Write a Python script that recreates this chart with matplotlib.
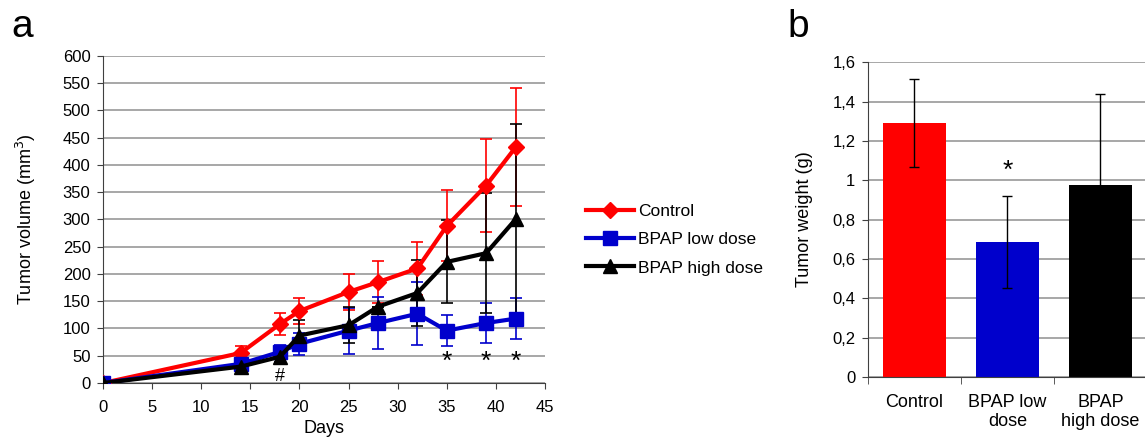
import numpy as np
import matplotlib.pyplot as plt

plt.rcParams['font.family'] = ['Liberation Sans', 'DejaVu Sans']

# panel a: tumor volume over time
days = [0, 14, 18, 20, 25, 28, 32, 35, 39, 42]
ctrl = [0, 55, 108, 132, 167, 185, 210, 288, 362, 432]
ctrl_err = [0, 12, 20, 23, 33, 38, 48, 65, 85, 108]
low = [0, 35, 57, 72, 96, 110, 127, 96, 110, 118]
low_err = [0, 8, 13, 20, 42, 48, 58, 29, 37, 38]
high = [0, 30, 48, 87, 106, 140, 165, 222, 238, 300]
high_err = [0, 6, 10, 28, 33, 0, 60, 76, 110, 175]

# panel b: tumor weight
groups = ['Control', 'BPAP low\ndose', 'BPAP\nhigh dose']
weight = [1.29, 0.685, 0.975]
weight_err = [0.225, 0.235, 0.465]

red = '#ff0000'
blue = '#0000cc'
black = '#000000'

fig = plt.figure(figsize=(11.45, 4.44), dpi=100)

ax1 = fig.add_axes([0.090, 0.1374, 0.386, 0.737])
series = [(ctrl, ctrl_err, red, 'D', 'Control'),
          (low, low_err, blue, 's', 'BPAP low dose'),
          (high, high_err, black, '^', 'BPAP high dose')]
handles = []
for vals, err, col, mk, lab in series:
    ax1.errorbar(days, vals, yerr=err, fmt='none', ecolor=col, elinewidth=1.2,
                 capsize=4, capthick=1.2, zorder=3)
for vals, err, col, mk, lab in series:
    h, = ax1.plot(days, vals, color=col, lw=3, marker=mk, markersize=10 if mk != 'D' else 8,
                  label=lab, zorder=4)
    handles.append(h)

ax1.set_xlim(0, 45)
ax1.set_ylim(0, 600)
ax1.set_xticks(np.arange(0, 46, 5))
ax1.set_yticks(np.arange(0, 601, 50))
ax1.yaxis.grid(True, color='#a0a0a0', lw=1.3)
ax1.set_axisbelow(True)
for s in ['top', 'right']:
    ax1.spines[s].set_visible(False)
ax1.spines['left'].set_color('#404040')
ax1.spines['bottom'].set_color('#404040')
ax1.tick_params(labelsize=12, length=4, color='#404040')
ax1.tick_params(axis='x', pad=8)
ax1.tick_params(axis='y', pad=5)
ax1.set_xlabel('Days', fontsize=13, labelpad=4)
ax1.set_ylabel('Tumor volume (mm$^3$)', fontsize=13, labelpad=18)

for d in [35, 39, 42]:
    ax1.text(d, 38, '*', ha='center', va='center', fontsize=19)
ax1.text(18, 12, '#', ha='center', va='center', fontsize=13)

fig.legend(handles=handles, loc='center left', bbox_to_anchor=(0.498, 0.46),
           frameon=False, fontsize=12.5, handlelength=2.8, labelspacing=0.75,
           handletextpad=0.2)

ax2 = fig.add_axes([0.758, 0.151, 0.2437, 0.709])
x = np.arange(len(groups))
ax2.bar(x, weight, width=0.67, color=[red, blue, black], zorder=2)
ax2.errorbar(x, weight, yerr=weight_err, fmt='none', ecolor='black', elinewidth=1,
             capsize=3.5, capthick=1, zorder=3)
ax2.text(1, 1.05, '*', ha='center', va='center', fontsize=19)
ax2.set_xlim(-0.5, 2.5)
ax2.set_ylim(0, 1.6)
ax2.set_yticks(np.arange(0, 1.61, 0.2))
ax2.set_yticklabels(['0', '0,2', '0,4', '0,6', '0,8', '1', '1,2', '1,4', '1,6'])
ax2.set_xticks(x)
ax2.set_xticklabels(groups, fontsize=13, linespacing=1.2)
ax2.set_xticks([-0.5, 0.5, 1.5], minor=True)
ax2.tick_params(axis='x', which='major', length=0, pad=12)
ax2.tick_params(axis='x', which='minor', length=5, color='#404040')
ax2.tick_params(axis='y', labelsize=12, length=4, color='#404040', pad=5)
ax2.yaxis.grid(True, color='#a0a0a0', lw=1.3)
ax2.set_axisbelow(True)
for s in ['top', 'right']:
    ax2.spines[s].set_visible(False)
ax2.spines['left'].set_color('#404040')
ax2.spines['bottom'].set_color('#404040')
ax2.set_ylabel('Tumor weight (g)', fontsize=13, labelpad=14)

fig.text(0.010, 0.94, 'a', fontsize=28, va='center')
fig.text(0.688, 0.94, 'b', fontsize=28, va='center')

fig.savefig('out.png', dpi=100)
